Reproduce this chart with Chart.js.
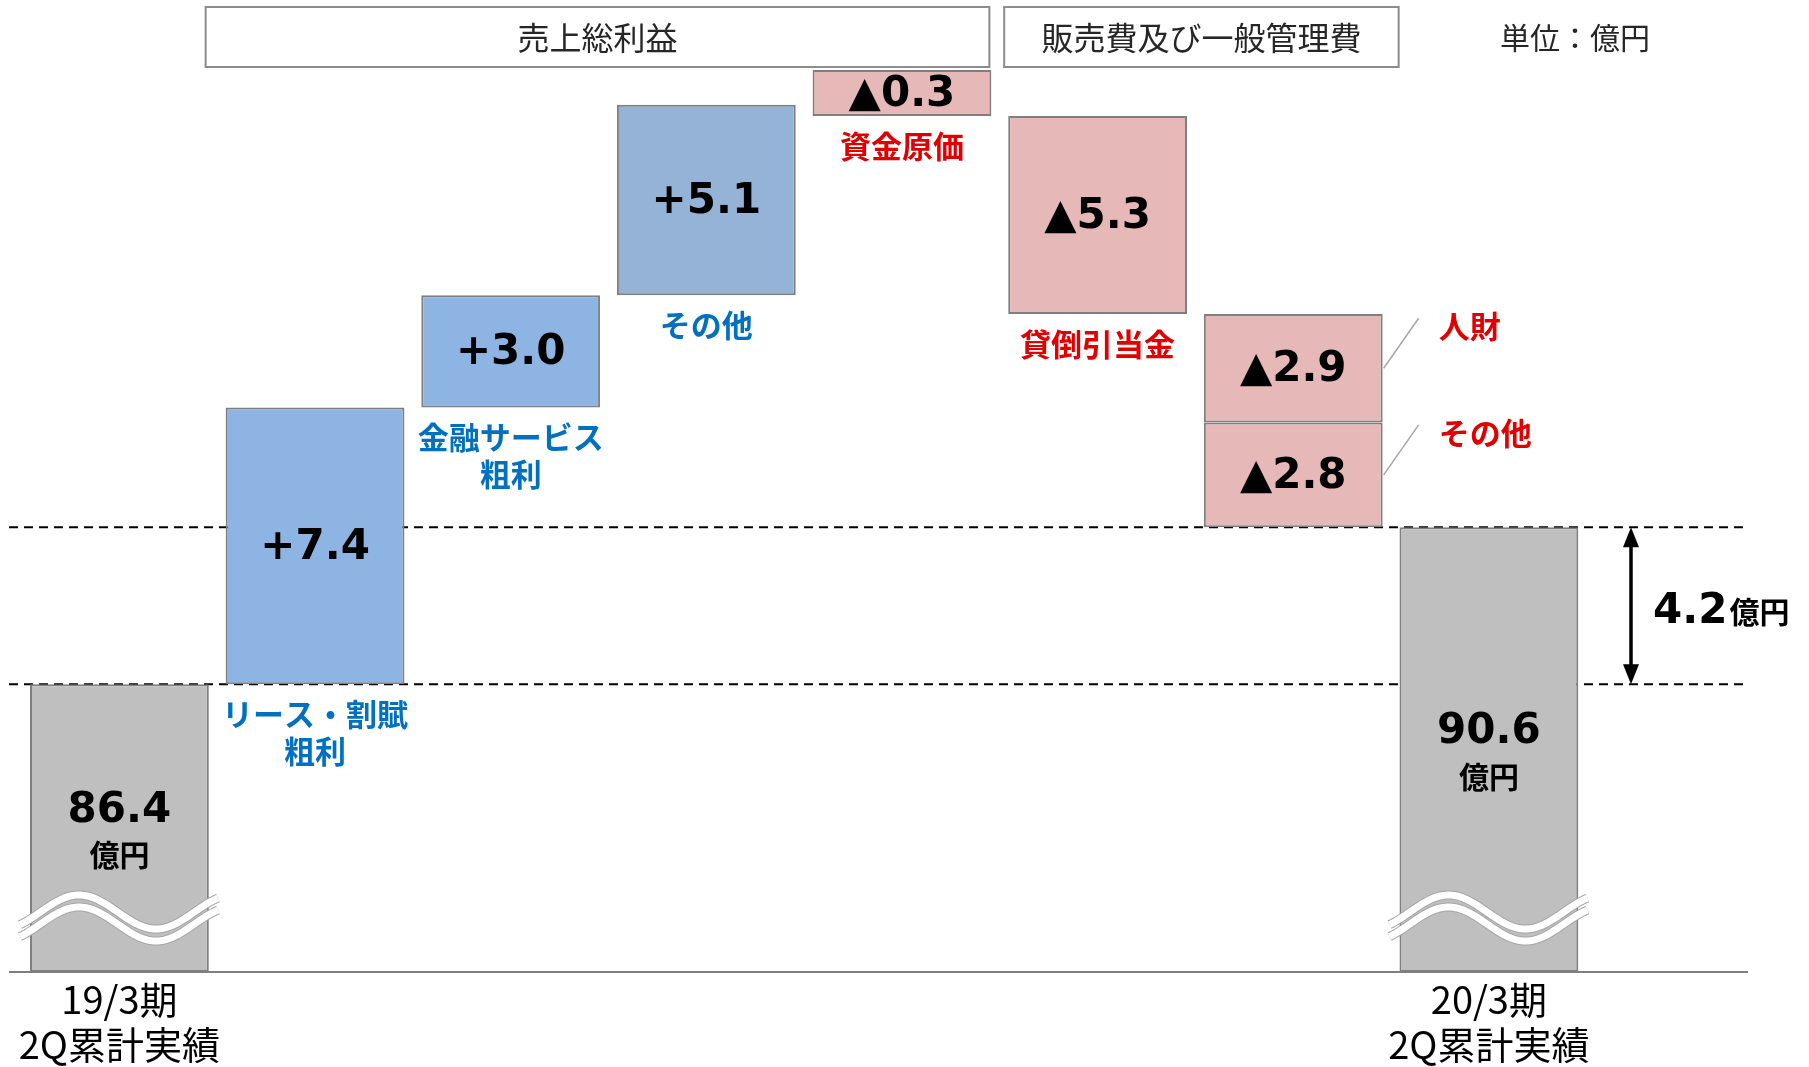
<!DOCTYPE html>
<html lang="ja">
<head>
<meta charset="utf-8">
<title>売上総利益・販管費 増減</title>
<script src="https://cdn.jsdelivr.net/npm/chart.js@4.4.1/dist/chart.umd.min.js"></script>
<style>
  html, body { margin: 0; padding: 0; background: #fff; }
  canvas { display: block; }
</style>
</head>
<body>
<canvas id="myChart" width="1809" height="1067"></canvas>
<script>
// chart values (億円)
const xLabels = [['19/3期', '2Q累計実績'], '', '', '', '', '', '', ['20/3期', '2Q累計実績']];
const totals = [86.4, 90.6];
const changes = [7.4, 3.0, 5.1, -0.3, -5.3, -2.9, -2.8];
const changeNames = [['リース・割賦', '粗利'], ['金融サービス', '粗利'], ['その他'], ['資金原価'], ['貸倒引当金'], ['人財'], ['その他']];
const changeColumns = [1, 2, 3, 4, 5, 6, 6];
const groupTitles = ['売上総利益', '販売費及び一般管理費'];
const unitText = '単位：億円';
const axisBreak = 78.7; // axis is broken (wave) below this
const axisTop = 103;

const JP = "'Noto Sans CJK JP', sans-serif";
const NUM_FONT = "bold 42px 'DejaVu Sans', sans-serif";
const GRAY = '#BFBFBF', BLUE = '#8EB4E3', BLUE2 = '#95B3D7', PINK = '#E6B9B8';

// floating bars: two layers so that two items can share a column
const nCols = xLabels.length;
const layers = [new Array(nCols).fill(null), new Array(nCols).fill(null)];
const layerItem = [new Array(nCols).fill(-1), new Array(nCols).fill(-1)];
layers[0][0] = [axisBreak, totals[0]];
layers[0][nCols - 1] = [axisBreak, totals[1]];
let running = totals[0];
changes.forEach((c, i) => {
  const col = changeColumns[i];
  const layer = layers[0][col] === null ? 0 : 1;
  layers[layer][col] = [running, running + c];
  layerItem[layer][col] = i;
  running += c;
});

function barColor(c) {
  const i = layerItem[c.datasetIndex][c.dataIndex];
  if (i < 0) return GRAY;
  if (changes[i] < 0) return PINK;
  return i === 2 ? BLUE2 : BLUE;
}

// wavy "break" mark across the total bars
function drawBreak(ctx, L, R, bottom) {
  const P = 154, A = 17;
  [bottom - 60, bottom - 48].forEach(yc => {
    ctx.beginPath();
    for (let px = L - 10; px <= R + 10.5; px += 2) {
      const py = yc - A * Math.sin(2 * Math.PI * (px - L - 10.5) / P);
      if (px === L - 10) ctx.moveTo(px, py); else ctx.lineTo(px, py);
    }
    ctx.lineCap = 'butt';
    ctx.strokeStyle = '#A6A6A6'; ctx.lineWidth = 9; ctx.stroke();
    ctx.strokeStyle = '#FFFFFF'; ctx.lineWidth = 7; ctx.stroke();
  });
}

const annotations = {
  id: 'annotations',
  beforeDatasetsDraw(chart) {
    const { ctx, scales: { y } } = chart;
    ctx.save();
    ctx.strokeStyle = '#000'; ctx.lineWidth = 2; ctx.setLineDash([9, 6]);
    totals.forEach(v => {
      const py = y.getPixelForValue(v);
      ctx.beginPath(); ctx.moveTo(9, py); ctx.lineTo(1748, py); ctx.stroke();
    });
    ctx.restore();
  },
  afterDatasetsDraw(chart) {
    const { ctx, chartArea, scales: { y } } = chart;
    const bars = chart.data.datasets.map((d, k) => chart.getDatasetMeta(k).data);
    ctx.save();
    ctx.textAlign = 'center';
    ctx.textBaseline = 'middle';

    // base line
    ctx.strokeStyle = '#7F7F7F'; ctx.lineWidth = 2;
    ctx.beginPath(); ctx.moveTo(9, chartArea.bottom); ctx.lineTo(1748, chartArea.bottom); ctx.stroke();

    // total bars
    [0, nCols - 1].forEach((col, t) => {
      const el = bars[0][col];
      drawBreak(ctx, el.x - el.width / 2, el.x + el.width / 2, chartArea.bottom);
      const mid = (el.y + el.base) / 2;
      ctx.fillStyle = '#000';
      ctx.font = NUM_FONT; ctx.fillText(totals[t].toFixed(1), el.x, mid - 17);
      ctx.font = 'bold 30px ' + JP; ctx.fillText('億円', el.x, mid + 27);
    });

    // change bars
    layerItem.forEach((row, k) => row.forEach((i, col) => {
      if (i < 0) return;
      const el = bars[k][col];
      const top = Math.min(el.y, el.base), bottom = Math.max(el.y, el.base);
      const cy = (top + bottom) / 2;
      const v = changes[i];
      ctx.fillStyle = '#000'; ctx.font = NUM_FONT;
      ctx.fillText((v > 0 ? '+' : '▲') + Math.abs(v).toFixed(1), el.x, cy + 2);
      ctx.fillStyle = v > 0 ? '#0070C0' : '#E00000';
      ctx.font = 'bold 31px ' + JP;
      const shared = changeColumns.filter(c => c === col).length > 1;
      if (shared) {
        const R = el.x + el.width / 2;
        ctx.strokeStyle = '#A6A6A6'; ctx.lineWidth = 1.5;
        ctx.beginPath(); ctx.moveTo(R + 1, cy); ctx.lineTo(R + 36, cy - 50); ctx.stroke();
        ctx.textAlign = 'left';
        ctx.fillText(changeNames[i].join(''), R + 56, cy - 42);
        ctx.textAlign = 'center';
      } else {
        changeNames[i].forEach((line, j) => ctx.fillText(line, el.x, bottom + 30 + j * 37));
      }
    }));

    // difference arrow
    const ax = 1631;
    const y1 = y.getPixelForValue(totals[1]), y2 = y.getPixelForValue(totals[0]);
    ctx.strokeStyle = '#000'; ctx.fillStyle = '#000'; ctx.lineWidth = 3.5;
    ctx.beginPath(); ctx.moveTo(ax, y1 + 15); ctx.lineTo(ax, y2 - 15); ctx.stroke();
    ctx.beginPath(); ctx.moveTo(ax, y1); ctx.lineTo(ax - 8, y1 + 20); ctx.lineTo(ax + 8, y1 + 20); ctx.closePath(); ctx.fill();
    ctx.beginPath(); ctx.moveTo(ax, y2); ctx.lineTo(ax - 8, y2 - 20); ctx.lineTo(ax + 8, y2 - 20); ctx.closePath(); ctx.fill();
    const diff = (totals[1] - totals[0]).toFixed(1);
    const base = (y1 + y2) / 2 + 17;
    ctx.textAlign = 'left'; ctx.textBaseline = 'alphabetic';
    ctx.font = NUM_FONT; ctx.fillText(diff, 1653, base);
    const w = ctx.measureText(diff).width;
    ctx.font = 'bold 30px ' + JP; ctx.fillText('億円', 1653 + w + 2, base);

    // header boxes
    const colL = c => bars[0][c].x - bars[0][c].width / 2;
    const colR = c => bars[0][c].x + bars[0][c].width / 2;
    const boxes = [[colL(1) - 20, colR(4) - 2], [colL(5) - 4, colR(6) + 16]];
    ctx.textAlign = 'center'; ctx.textBaseline = 'middle';
    ctx.font = '32px ' + JP;
    boxes.forEach(([l, r], b) => {
      ctx.strokeStyle = '#8C8C8C'; ctx.lineWidth = 2;
      ctx.strokeRect(l, 7, r - l, 60);
      ctx.fillStyle = '#262626';
      ctx.fillText(groupTitles[b], (l + r) / 2, 38);
    });
    ctx.font = '30px ' + JP;
    ctx.fillText(unitText, 1575, 38);
    ctx.restore();
  }
};

const ctx = document.getElementById('myChart');

new Chart(ctx, {
  type: 'bar',
  data: {
    labels: xLabels,
    datasets: layers.map(data => ({
      data: data,
      backgroundColor: barColor,
      borderColor: '#7F7F7F',
      borderWidth: 2,
      borderSkipped: false,
      minBarLength: 46,
      grouped: false,
      categoryPercentage: 1,
      barPercentage: 0.914,
    })),
  },
  options: {
    responsive: false,
    animation: false,
    devicePixelRatio: 1,
    events: [],
    layout: { padding: { left: 21.6, right: 222.3, top: 63.6, bottom: 0 } },
    plugins: {
      legend: { display: false },
      tooltip: { enabled: false },
    },
    scales: {
      x: {
        grid: { display: false, drawTicks: false },
        border: { display: false },
        ticks: {
          color: '#000',
          padding: 4.5,
          maxRotation: 0,
          autoSkip: false,
          font: { family: JP, size: 38, lineHeight: 1.2 },
        },
        afterFit: (scale) => { scale.height = 95; },
      },
      y: { display: false, min: axisBreak, max: axisTop },
    },
  },
  plugins: [annotations],
});
</script>
</body>
</html>
